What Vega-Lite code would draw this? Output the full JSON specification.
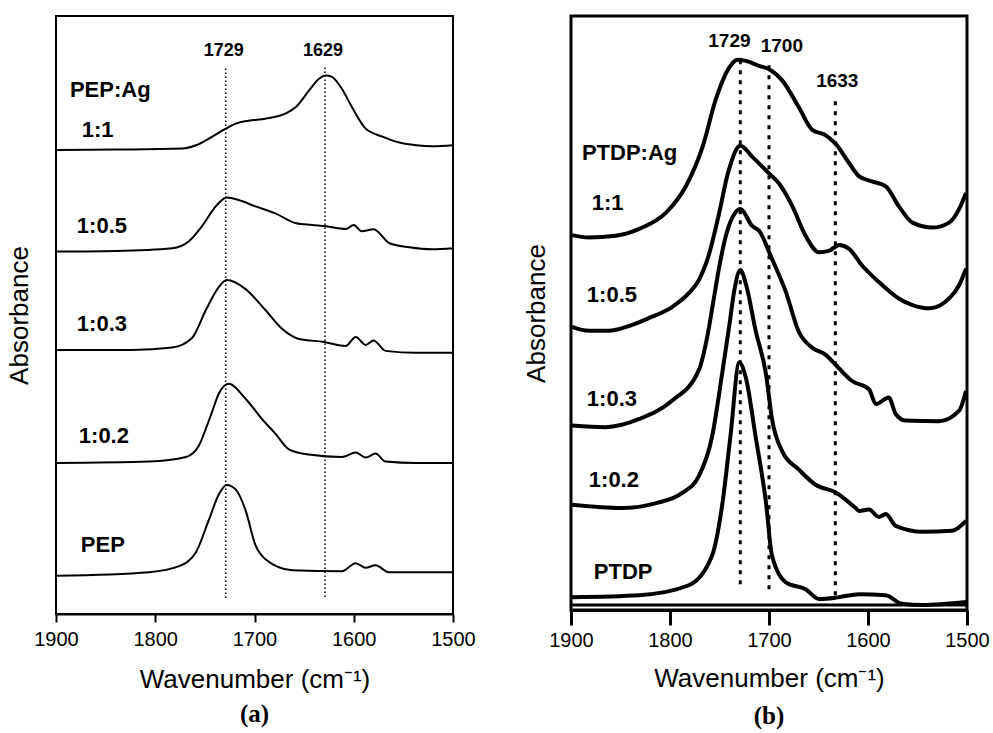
{
  "$schema": "https://vega.github.io/schema/vega-lite/v6.json",
  "background": "white",
  "autosize": {"type": "pad"},
  "padding": {"left": 5, "top": 14, "right": 5, "bottom": 5},
  "spacing": 118,
  "bounds": "flush",
  "config": {
    "font": "Liberation Sans",
    "axis": {"grid": false, "labelFont": "Liberation Sans", "titleFont": "Liberation Sans", "labelColor": "black", "titleColor": "black", "domainColor": "black", "tickColor": "black", "titleFontWeight": "normal"},
    "view": {"stroke": "black"}
  },
  "datasets": {
    "pa": [
      {"s": "1:1", "wn": 1899, "a": 4.655}, {"s": "1:1", "wn": 1840, "a": 4.66}, {"s": "1:1", "wn": 1773, "a": 4.67}, {"s": "1:1", "wn": 1759, "a": 4.703}, {"s": "1:1", "wn": 1746, "a": 4.77}, {"s": "1:1", "wn": 1729, "a": 4.87}, {"s": "1:1", "wn": 1719, "a": 4.92}, {"s": "1:1", "wn": 1706, "a": 4.95}, {"s": "1:1", "wn": 1689, "a": 4.97}, {"s": "1:1", "wn": 1669, "a": 5.02}, {"s": "1:1", "wn": 1658, "a": 5.09}, {"s": "1:1", "wn": 1645, "a": 5.253}, {"s": "1:1", "wn": 1635, "a": 5.37}, {"s": "1:1", "wn": 1628, "a": 5.403}, {"s": "1:1", "wn": 1622, "a": 5.39}, {"s": "1:1", "wn": 1612, "a": 5.27}, {"s": "1:1", "wn": 1602, "a": 5.09}, {"s": "1:1", "wn": 1588, "a": 4.87}, {"s": "1:1", "wn": 1571, "a": 4.79}, {"s": "1:1", "wn": 1554, "a": 4.73}, {"s": "1:1", "wn": 1537, "a": 4.703}, {"s": "1:1", "wn": 1521, "a": 4.693}, {"s": "1:1", "wn": 1500, "a": 4.703},
      {"s": "1:0.5", "wn": 1899, "a": 3.637}, {"s": "1:0.5", "wn": 1840, "a": 3.643}, {"s": "1:0.5", "wn": 1783, "a": 3.67}, {"s": "1:0.5", "wn": 1766, "a": 3.74}, {"s": "1:0.5", "wn": 1753, "a": 3.89}, {"s": "1:0.5", "wn": 1739, "a": 4.09}, {"s": "1:0.5", "wn": 1728, "a": 4.18}, {"s": "1:0.5", "wn": 1716, "a": 4.153}, {"s": "1:0.5", "wn": 1699, "a": 4.09}, {"s": "1:0.5", "wn": 1679, "a": 4.02}, {"s": "1:0.5", "wn": 1658, "a": 3.92}, {"s": "1:0.5", "wn": 1642, "a": 3.903}, {"s": "1:0.5", "wn": 1628, "a": 3.89}, {"s": "1:0.5", "wn": 1608, "a": 3.863}, {"s": "1:0.5", "wn": 1600, "a": 3.903}, {"s": "1:0.5", "wn": 1592, "a": 3.84}, {"s": "1:0.5", "wn": 1580, "a": 3.86}, {"s": "1:0.5", "wn": 1564, "a": 3.72}, {"s": "1:0.5", "wn": 1544, "a": 3.68}, {"s": "1:0.5", "wn": 1521, "a": 3.66}, {"s": "1:0.5", "wn": 1500, "a": 3.67},
      {"s": "1:0.3", "wn": 1899, "a": 2.65}, {"s": "1:0.3", "wn": 1823, "a": 2.65}, {"s": "1:0.3", "wn": 1783, "a": 2.674}, {"s": "1:0.3", "wn": 1763, "a": 2.77}, {"s": "1:0.3", "wn": 1749, "a": 3.05}, {"s": "1:0.3", "wn": 1736, "a": 3.28}, {"s": "1:0.3", "wn": 1728, "a": 3.35}, {"s": "1:0.3", "wn": 1709, "a": 3.26}, {"s": "1:0.3", "wn": 1689, "a": 3.05}, {"s": "1:0.3", "wn": 1672, "a": 2.86}, {"s": "1:0.3", "wn": 1655, "a": 2.76}, {"s": "1:0.3", "wn": 1630, "a": 2.73}, {"s": "1:0.3", "wn": 1608, "a": 2.69}, {"s": "1:0.3", "wn": 1598, "a": 2.78}, {"s": "1:0.3", "wn": 1588, "a": 2.7}, {"s": "1:0.3", "wn": 1580, "a": 2.744}, {"s": "1:0.3", "wn": 1568, "a": 2.64}, {"s": "1:0.3", "wn": 1537, "a": 2.62}, {"s": "1:0.3", "wn": 1500, "a": 2.62},
      {"s": "1:0.2", "wn": 1899, "a": 1.515}, {"s": "1:0.2", "wn": 1806, "a": 1.53}, {"s": "1:0.2", "wn": 1769, "a": 1.575}, {"s": "1:0.2", "wn": 1756, "a": 1.69}, {"s": "1:0.2", "wn": 1749, "a": 1.86}, {"s": "1:0.2", "wn": 1743, "a": 2.02}, {"s": "1:0.2", "wn": 1736, "a": 2.21}, {"s": "1:0.2", "wn": 1726, "a": 2.31}, {"s": "1:0.2", "wn": 1709, "a": 2.16}, {"s": "1:0.2", "wn": 1692, "a": 1.95}, {"s": "1:0.2", "wn": 1679, "a": 1.81}, {"s": "1:0.2", "wn": 1665, "a": 1.65}, {"s": "1:0.2", "wn": 1645, "a": 1.6}, {"s": "1:0.2", "wn": 1612, "a": 1.575}, {"s": "1:0.2", "wn": 1598, "a": 1.62}, {"s": "1:0.2", "wn": 1588, "a": 1.57}, {"s": "1:0.2", "wn": 1578, "a": 1.61}, {"s": "1:0.2", "wn": 1568, "a": 1.53}, {"s": "1:0.2", "wn": 1537, "a": 1.515}, {"s": "1:0.2", "wn": 1500, "a": 1.515},
      {"s": "PEP", "wn": 1899, "a": 0.383}, {"s": "PEP", "wn": 1806, "a": 0.42}, {"s": "PEP", "wn": 1776, "a": 0.48}, {"s": "PEP", "wn": 1759, "a": 0.62}, {"s": "PEP", "wn": 1746, "a": 0.944}, {"s": "PEP", "wn": 1736, "a": 1.2}, {"s": "PEP", "wn": 1728, "a": 1.295}, {"s": "PEP", "wn": 1719, "a": 1.25}, {"s": "PEP", "wn": 1709, "a": 1.04}, {"s": "PEP", "wn": 1699, "a": 0.69}, {"s": "PEP", "wn": 1689, "a": 0.55}, {"s": "PEP", "wn": 1662, "a": 0.44}, {"s": "PEP", "wn": 1612, "a": 0.43}, {"s": "PEP", "wn": 1598, "a": 0.51}, {"s": "PEP", "wn": 1588, "a": 0.463}, {"s": "PEP", "wn": 1578, "a": 0.49}, {"s": "PEP", "wn": 1565, "a": 0.42}, {"s": "PEP", "wn": 1500, "a": 0.42}
    ],
    "pb": [
      {"s": "1:1", "wn": 1899, "a": 3.787}, {"s": "1:1", "wn": 1882, "a": 3.763}, {"s": "1:1", "wn": 1855, "a": 3.78}, {"s": "1:1", "wn": 1831, "a": 3.85}, {"s": "1:1", "wn": 1804, "a": 4.013}, {"s": "1:1", "wn": 1784, "a": 4.28}, {"s": "1:1", "wn": 1767, "a": 4.68}, {"s": "1:1", "wn": 1754, "a": 5.15}, {"s": "1:1", "wn": 1740, "a": 5.48}, {"s": "1:1", "wn": 1732, "a": 5.557}, {"s": "1:1", "wn": 1723.5, "a": 5.547}, {"s": "1:1", "wn": 1710, "a": 5.497}, {"s": "1:1", "wn": 1700, "a": 5.463}, {"s": "1:1", "wn": 1686.5, "a": 5.347}, {"s": "1:1", "wn": 1670, "a": 5.08}, {"s": "1:1", "wn": 1656, "a": 4.847}, {"s": "1:1", "wn": 1643, "a": 4.797}, {"s": "1:1", "wn": 1633, "a": 4.713}, {"s": "1:1", "wn": 1619, "a": 4.513}, {"s": "1:1", "wn": 1609, "a": 4.38}, {"s": "1:1", "wn": 1596, "a": 4.33}, {"s": "1:1", "wn": 1582, "a": 4.28}, {"s": "1:1", "wn": 1569, "a": 4.08}, {"s": "1:1", "wn": 1555, "a": 3.913}, {"s": "1:1", "wn": 1535, "a": 3.863}, {"s": "1:1", "wn": 1518, "a": 3.913}, {"s": "1:1", "wn": 1508, "a": 4.05}, {"s": "1:1", "wn": 1501, "a": 4.213},
      {"s": "1:0.5", "wn": 1899, "a": 2.86}, {"s": "1:0.5", "wn": 1882, "a": 2.82}, {"s": "1:0.5", "wn": 1862, "a": 2.82}, {"s": "1:0.5", "wn": 1841, "a": 2.87}, {"s": "1:0.5", "wn": 1821, "a": 2.95}, {"s": "1:0.5", "wn": 1798, "a": 3.06}, {"s": "1:0.5", "wn": 1781, "a": 3.2}, {"s": "1:0.5", "wn": 1771, "a": 3.33}, {"s": "1:0.5", "wn": 1761, "a": 3.58}, {"s": "1:0.5", "wn": 1751, "a": 3.98}, {"s": "1:0.5", "wn": 1741, "a": 4.43}, {"s": "1:0.5", "wn": 1729, "a": 4.69}, {"s": "1:0.5", "wn": 1717, "a": 4.58}, {"s": "1:0.5", "wn": 1700, "a": 4.41}, {"s": "1:0.5", "wn": 1690, "a": 4.31}, {"s": "1:0.5", "wn": 1676.5, "a": 4.08}, {"s": "1:0.5", "wn": 1663, "a": 3.78}, {"s": "1:0.5", "wn": 1649.5, "a": 3.613}, {"s": "1:0.5", "wn": 1639, "a": 3.63}, {"s": "1:0.5", "wn": 1629, "a": 3.687}, {"s": "1:0.5", "wn": 1619, "a": 3.647}, {"s": "1:0.5", "wn": 1606, "a": 3.48}, {"s": "1:0.5", "wn": 1589, "a": 3.313}, {"s": "1:0.5", "wn": 1569, "a": 3.147}, {"s": "1:0.5", "wn": 1555, "a": 3.08}, {"s": "1:0.5", "wn": 1538, "a": 3.047}, {"s": "1:0.5", "wn": 1518, "a": 3.147}, {"s": "1:0.5", "wn": 1508, "a": 3.28}, {"s": "1:0.5", "wn": 1501, "a": 3.447},
      {"s": "1:0.3", "wn": 1899, "a": 1.863}, {"s": "1:0.3", "wn": 1865, "a": 1.847}, {"s": "1:0.3", "wn": 1831, "a": 1.93}, {"s": "1:0.3", "wn": 1798, "a": 2.113}, {"s": "1:0.3", "wn": 1771, "a": 2.42}, {"s": "1:0.3", "wn": 1762, "a": 2.78}, {"s": "1:0.3", "wn": 1756, "a": 3.13}, {"s": "1:0.3", "wn": 1750, "a": 3.48}, {"s": "1:0.3", "wn": 1743, "a": 3.8}, {"s": "1:0.3", "wn": 1735, "a": 4.0}, {"s": "1:0.3", "wn": 1729, "a": 4.05}, {"s": "1:0.3", "wn": 1717, "a": 3.88}, {"s": "1:0.3", "wn": 1710, "a": 3.83}, {"s": "1:0.3", "wn": 1697, "a": 3.547}, {"s": "1:0.3", "wn": 1683, "a": 3.213}, {"s": "1:0.3", "wn": 1670, "a": 2.813}, {"s": "1:0.3", "wn": 1656, "a": 2.647}, {"s": "1:0.3", "wn": 1643, "a": 2.58}, {"s": "1:0.3", "wn": 1633, "a": 2.48}, {"s": "1:0.3", "wn": 1616, "a": 2.313}, {"s": "1:0.3", "wn": 1599, "a": 2.23}, {"s": "1:0.3", "wn": 1592, "a": 2.08}, {"s": "1:0.3", "wn": 1579, "a": 2.147}, {"s": "1:0.3", "wn": 1572, "a": 1.98}, {"s": "1:0.3", "wn": 1562, "a": 1.913}, {"s": "1:0.3", "wn": 1528, "a": 1.907}, {"s": "1:0.3", "wn": 1508, "a": 2.013}, {"s": "1:0.3", "wn": 1501, "a": 2.213},
      {"s": "1:0.2", "wn": 1899, "a": 1.063}, {"s": "1:0.2", "wn": 1848, "a": 1.03}, {"s": "1:0.2", "wn": 1814, "a": 1.08}, {"s": "1:0.2", "wn": 1788, "a": 1.18}, {"s": "1:0.2", "wn": 1771, "a": 1.35}, {"s": "1:0.2", "wn": 1757.5, "a": 1.75}, {"s": "1:0.2", "wn": 1747, "a": 2.41}, {"s": "1:0.2", "wn": 1740, "a": 2.88}, {"s": "1:0.2", "wn": 1735, "a": 3.23}, {"s": "1:0.2", "wn": 1729, "a": 3.434}, {"s": "1:0.2", "wn": 1723, "a": 3.28}, {"s": "1:0.2", "wn": 1713.5, "a": 2.822}, {"s": "1:0.2", "wn": 1703, "a": 2.38}, {"s": "1:0.2", "wn": 1697, "a": 1.93}, {"s": "1:0.2", "wn": 1686.5, "a": 1.6}, {"s": "1:0.2", "wn": 1670, "a": 1.42}, {"s": "1:0.2", "wn": 1653, "a": 1.265}, {"s": "1:0.2", "wn": 1633, "a": 1.19}, {"s": "1:0.2", "wn": 1612.5, "a": 1.03}, {"s": "1:0.2", "wn": 1609, "a": 1.0}, {"s": "1:0.2", "wn": 1599, "a": 1.015}, {"s": "1:0.2", "wn": 1589, "a": 0.94}, {"s": "1:0.2", "wn": 1582, "a": 0.97}, {"s": "1:0.2", "wn": 1572, "a": 0.85}, {"s": "1:0.2", "wn": 1545, "a": 0.79}, {"s": "1:0.2", "wn": 1515, "a": 0.8}, {"s": "1:0.2", "wn": 1501, "a": 0.9},
      {"s": "PTDP", "wn": 1899, "a": 0.13}, {"s": "PTDP", "wn": 1831, "a": 0.15}, {"s": "PTDP", "wn": 1781, "a": 0.25}, {"s": "PTDP", "wn": 1757.5, "a": 0.55}, {"s": "PTDP", "wn": 1747, "a": 1.08}, {"s": "PTDP", "wn": 1739, "a": 1.75}, {"s": "PTDP", "wn": 1730, "a": 2.5}, {"s": "PTDP", "wn": 1723.5, "a": 2.35}, {"s": "PTDP", "wn": 1713.5, "a": 1.75}, {"s": "PTDP", "wn": 1703, "a": 1.08}, {"s": "PTDP", "wn": 1697, "a": 0.55}, {"s": "PTDP", "wn": 1683, "a": 0.28}, {"s": "PTDP", "wn": 1663, "a": 0.21}, {"s": "PTDP", "wn": 1649.5, "a": 0.11}, {"s": "PTDP", "wn": 1629, "a": 0.13}, {"s": "PTDP", "wn": 1609, "a": 0.16}, {"s": "PTDP", "wn": 1582, "a": 0.15}, {"s": "PTDP", "wn": 1566, "a": 0.063}, {"s": "PTDP", "wn": 1545, "a": 0.05}, {"s": "PTDP", "wn": 1501, "a": 0.08}
    ],
    "ra": [
      {"wn": 1729, "a": 0.16, "a2": 5.48},
      {"wn": 1629, "a": 0.17, "a2": 5.49}
    ],
    "rb": [
      {"wn": 1729, "a": 0.26, "a2": 5.58},
      {"wn": 1700, "a": 0.21, "a2": 5.55},
      {"wn": 1633, "a": 0.15, "a2": 5.2}
    ],
    "pka": [
      {"t": "1729", "wn": 1731, "a": 5.653},
      {"t": "1629", "wn": 1631, "a": 5.653}
    ],
    "pkb": [
      {"t": "1729", "wn": 1740, "a": 5.747},
      {"t": "1700", "wn": 1687, "a": 5.697},
      {"t": "1633", "wn": 1631, "a": 5.34}
    ],
    "la": [
      {"t": "PEP:Ag", "k": "header", "wn": 1886, "a": 5.253},
      {"t": "1:1", "k": "ratio", "wn": 1874, "a": 4.86},
      {"t": "1:0.5", "k": "ratio", "wn": 1879, "a": 3.89},
      {"t": "1:0.3", "k": "ratio", "wn": 1879, "a": 2.91},
      {"t": "1:0.2", "k": "ratio", "wn": 1877, "a": 1.79},
      {"t": "PEP", "k": "ratio", "wn": 1875, "a": 0.69}
    ],
    "lb": [
      {"t": "PTDP:Ag", "k": "header", "wn": 1889, "a": 4.613},
      {"t": "1:1", "k": "ratio", "wn": 1879, "a": 4.113},
      {"t": "1:0.5", "k": "ratio", "wn": 1884, "a": 3.18},
      {"t": "1:0.3", "k": "ratio", "wn": 1884, "a": 2.13},
      {"t": "1:0.2", "k": "ratio", "wn": 1882, "a": 1.313},
      {"t": "PTDP", "k": "header", "wn": 1877, "a": 0.38}
    ],
    "base": [{"a": 0.05}]
  },
  "hconcat": [
    {
      "width": 397,
      "height": 598,
      "view": {"stroke": "black", "strokeWidth": 2},
      "title": {"text": "(a)", "orient": "bottom", "font": "Liberation Serif", "fontWeight": "bold", "fontSize": 25, "color": "black", "offset": 10},
      "layer": [
        {
          "data": {"name": "pa"},
          "mark": {"type": "line", "color": "black", "strokeWidth": 2, "interpolate": "monotone"},
          "encoding": {
            "x": {"field": "wn", "type": "quantitative", "scale": {"domain": [1900, 1500]},
              "axis": {"title": "Wavenumber (cm⁻¹)", "values": [1900, 1800, 1700, 1600, 1500], "format": "d", "labelFontSize": 20, "titleFontSize": 26, "tickSize": 8, "tickWidth": 2, "domainWidth": 2, "labelPadding": 7, "titlePadding": 17, "labelFlush": false, "labelOverlap": false}},
            "y": {"field": "a", "type": "quantitative", "scale": {"domain": [0, 5.98]},
              "axis": {"title": "Absorbance", "labels": false, "ticks": false, "domain": false, "titleFontSize": 26, "titlePadding": 24}},
            "detail": {"field": "s"}
          }
        },
        {
          "data": {"name": "ra"},
          "mark": {"type": "rule", "color": "black", "strokeWidth": 1.5, "strokeDash": [1.5, 2.5]},
          "encoding": {"x": {"field": "wn", "type": "quantitative"}, "y": {"field": "a", "type": "quantitative"}, "y2": {"field": "a2"}}
        },
        {
          "data": {"name": "pka"},
          "mark": {"type": "text", "font": "Liberation Sans", "fontWeight": "bold", "fontSize": 18, "align": "center", "baseline": "middle", "color": "black"},
          "encoding": {"x": {"field": "wn", "type": "quantitative"}, "y": {"field": "a", "type": "quantitative"}, "text": {"field": "t"}}
        },
        {
          "data": {"name": "la"},
          "mark": {"type": "text", "font": "Liberation Sans", "fontWeight": "bold", "align": "left", "baseline": "middle", "color": "black"},
          "encoding": {"x": {"field": "wn", "type": "quantitative"}, "y": {"field": "a", "type": "quantitative"}, "text": {"field": "t"},
            "size": {"field": "k", "type": "nominal", "scale": {"domain": ["header", "ratio"], "range": [22, 22]}, "legend": null}}
        }
      ]
    },
    {
      "width": 396,
      "height": 594,
      "view": {"stroke": "black", "strokeWidth": 3},
      "title": {"text": "(b)", "orient": "bottom", "font": "Liberation Serif", "fontWeight": "bold", "fontSize": 25, "color": "black", "offset": 13},
      "layer": [
        {
          "data": {"name": "pb"},
          "mark": {"type": "line", "color": "black", "strokeWidth": 4, "interpolate": "monotone"},
          "encoding": {
            "x": {"field": "wn", "type": "quantitative", "scale": {"domain": [1900, 1500]},
              "axis": {"title": "Wavenumber (cm⁻¹)", "values": [1900, 1800, 1700, 1600, 1500], "format": "d", "labelFontSize": 20, "titleFontSize": 26, "tickSize": 15, "tickWidth": 3, "domainWidth": 3, "labelPadding": 5, "titlePadding": 15, "labelFlush": false, "labelOverlap": false}},
            "y": {"field": "a", "type": "quantitative", "scale": {"domain": [0, 5.94]},
              "axis": {"title": "Absorbance", "labels": false, "ticks": false, "domain": false, "titleFontSize": 26, "titlePadding": 22}},
            "detail": {"field": "s"}
          }
        },
        {
          "data": {"name": "base"},
          "mark": {"type": "rule", "color": "black", "strokeWidth": 3},
          "encoding": {"y": {"field": "a", "type": "quantitative"}}
        },
        {
          "data": {"name": "rb"},
          "mark": {"type": "rule", "color": "black", "strokeWidth": 3, "strokeDash": [4, 6]},
          "encoding": {"x": {"field": "wn", "type": "quantitative"}, "y": {"field": "a", "type": "quantitative"}, "y2": {"field": "a2"}}
        },
        {
          "data": {"name": "pkb"},
          "mark": {"type": "text", "font": "Liberation Sans", "fontWeight": "bold", "fontSize": 19, "align": "center", "baseline": "middle", "color": "black"},
          "encoding": {"x": {"field": "wn", "type": "quantitative"}, "y": {"field": "a", "type": "quantitative"}, "text": {"field": "t"}}
        },
        {
          "data": {"name": "lb"},
          "mark": {"type": "text", "font": "Liberation Sans", "fontWeight": "bold", "align": "left", "baseline": "middle", "color": "black"},
          "encoding": {"x": {"field": "wn", "type": "quantitative"}, "y": {"field": "a", "type": "quantitative"}, "text": {"field": "t"},
            "size": {"field": "k", "type": "nominal", "scale": {"domain": ["header", "ratio"], "range": [18, 24]}, "legend": null}}
        }
      ]
    }
  ]
}
